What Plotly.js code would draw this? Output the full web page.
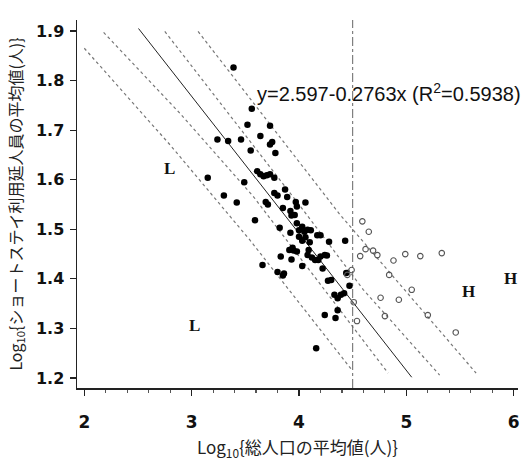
<!DOCTYPE html>
<html>
<head>
<meta charset="utf-8">
<script src="https://cdn.plot.ly/plotly-3.0.1.min.js"></script>
<style>html,body{margin:0;padding:0;background:#fff;}#chart{width:530px;height:461px;}</style>
</head>
<body>
<div id="chart"></div>
<script>
// Filled dots (municipalities, x < 4.5)
const filledX = [3.39,3.56,3.52,3.73,3.24,3.34,3.46,3.64,3.75,3.73,3.55,3.78,3.15,3.49,3.61,3.64,3.67,3.70,3.73,3.77,
  3.30,3.42,3.69,3.71,3.77,3.80,3.87,3.89,3.85,3.97,3.98,3.96,4.06,3.59,3.82,3.92,3.93,3.92,3.98,4.00,
  4.03,4.05,4.08,4.11,4.00,4.03,4.17,4.20,4.28,4.43,3.83,3.91,3.94,3.93,3.66,3.80,3.86,3.85,4.03,4.08,
  4.12,4.15,4.18,4.20,4.24,4.26,4.22,4.27,4.30,4.44,4.47,4.33,4.36,4.39,4.42,4.24,4.36,4.34,4.16,4.09,
  4.10,4.06,3.95,3.98];
const filledY = [1.826,1.743,1.711,1.709,1.681,1.678,1.681,1.688,1.676,1.671,1.659,1.654,1.604,1.595,1.617,1.611,1.607,1.609,1.611,1.604,
  1.568,1.554,1.555,1.550,1.573,1.568,1.580,1.565,1.543,1.555,1.546,1.529,1.554,1.518,1.503,1.537,1.528,1.493,1.512,1.498,
  1.505,1.495,1.499,1.498,1.485,1.477,1.488,1.488,1.475,1.477,1.445,1.458,1.463,1.439,1.428,1.414,1.411,1.407,1.426,1.448,
  1.443,1.438,1.438,1.445,1.448,1.447,1.421,1.396,1.398,1.412,1.386,1.368,1.361,1.368,1.371,1.327,1.337,1.321,1.260,1.458,
  1.474,1.484,1.457,1.455];
// Open circles (x > 4.5)
const openX = [4.59,4.65,4.62,4.69,4.73,4.57,4.88,4.99,5.13,5.33,4.49,4.84,5.05,4.93,4.76,4.51,4.80,5.20,4.54,5.46,4.45];
const openY = [1.516,1.495,1.460,1.457,1.448,1.446,1.437,1.450,1.446,1.452,1.418,1.408,1.378,1.358,1.362,1.353,1.325,1.327,1.315,1.292,1.408];
// Regression y = a + b x
const regA = 2.597, regB = -0.2763;
const regX = [2.505, 5.05];
// Dotted band lines
const lOuterX = [2.00, 2.80, 3.54, 4.49];
const lOuterY = [1.865, 1.670, 1.479, 1.217];
const lInnerX = [2.18, 2.89, 3.575, 4.83];
const lInnerY = [1.897, 1.734, 1.566, 1.210];
const rInnerX = [2.75, 4.00, 4.60, 5.31];
const rInnerY = [1.899, 1.550, 1.378, 1.206];
const rOuterX = [3.06, 4.38, 5.65];
const rOuterY = [1.899, 1.530, 1.210];
const vLineX = 4.5;
const xTicks = [2,3,4,5,6];
const yTicks = [1.2,1.3,1.4,1.5,1.6,1.7,1.8,1.9];
const labelText = ['L','L','H','H'];
const labelX = [2.79, 3.03, 5.58, 5.97];
const labelY = [1.622, 1.307, 1.374, 1.401];

const dotLine = {color:'#777', width:1.2, dash:'dot'};
const traces = [
  {x:lOuterX, y:lOuterY, mode:'lines', line:dotLine, hoverinfo:'skip'},
  {x:lInnerX, y:lInnerY, mode:'lines', line:dotLine, hoverinfo:'skip'},
  {x:rInnerX, y:rInnerY, mode:'lines', line:dotLine, hoverinfo:'skip'},
  {x:rOuterX, y:rOuterY, mode:'lines', line:dotLine, hoverinfo:'skip'},
  {x:regX, y:regX.map(v => regA + regB*v), mode:'lines', line:{color:'#222', width:1}},
  {x:[vLineX, vLineX], y:[1.18, 1.922], mode:'lines', line:{color:'#666', width:1, dash:'dashdot'}},
  {x:filledX, y:filledY, mode:'markers', marker:{color:'#000', size:6.5, line:{width:0}}},
  {x:openX, y:openY, mode:'markers', marker:{color:'#555', size:5.5, symbol:'circle-open', line:{width:1.1}}}
];

const annotations = labelText.map((t,i) => ({
  x: labelX[i], y: labelY[i], text: '<b>' + t + '</b>', showarrow:false,
  font:{family:'Liberation Serif, Times New Roman, serif', size:17, color:'#111'}
}));
annotations.push({
  x:3.59, y:1.776, xanchor:'left', yanchor:'middle', showarrow:false,
  text:'y=2.597-0.2763x (R<sup>2</sup>=0.5938)',
  font:{family:'Liberation Sans, Arial, sans-serif', size:20, color:'#111'}
});

const layout = {
  width:530, height:461,
  margin:{l:77, r:12, t:20, b:73},
  paper_bgcolor:'#fff', plot_bgcolor:'#fff',
  showlegend:false,
  xaxis:{
    range:[1.932, 6.04], tickvals:xTicks, ticktext:xTicks.map(String),
    ticks:'outside', ticklen:6, tickwidth:1.2, tickcolor:'#222',
    showline:true, linecolor:'#222', linewidth:1.5,
    showgrid:false, zeroline:false,
    minor:{ticks:'outside', ticklen:3, dtick:0.2, tickcolor:'#555', showgrid:false},
    tickfont:{family:'DejaVu Sans, sans-serif', size:17, color:'#111', weight:'bold'},
    ticklabelstandoff:12,
    title:{text:'Log<sub>10</sub>{総人口の平均値(人)}', standoff:14,
      font:{family:'Noto Sans CJK JP, sans-serif', size:17, color:'#222'}}
  },
  yaxis:{
    range:[1.18, 1.922], tickvals:yTicks, ticktext:yTicks.map(v=>v.toFixed(1)),
    ticks:'outside', ticklen:6, tickwidth:1.2, tickcolor:'#222',
    showline:true, linecolor:'#222', linewidth:1.5,
    showgrid:false, zeroline:false,
    tickfont:{family:'DejaVu Sans, sans-serif', size:16, color:'#111', weight:'bold'},
    ticklabelstandoff:2,
    title:{text:'Log<sub>10</sub>{ショートステイ利用延人員の平均値(人)}', standoff:9,
      font:{family:'Noto Sans CJK JP, sans-serif', size:16, color:'#222'}}
  },
  annotations: annotations
};

Plotly.newPlot('chart', traces, layout, {displayModeBar:false, staticPlot:true});
</script>
</body>
</html>
